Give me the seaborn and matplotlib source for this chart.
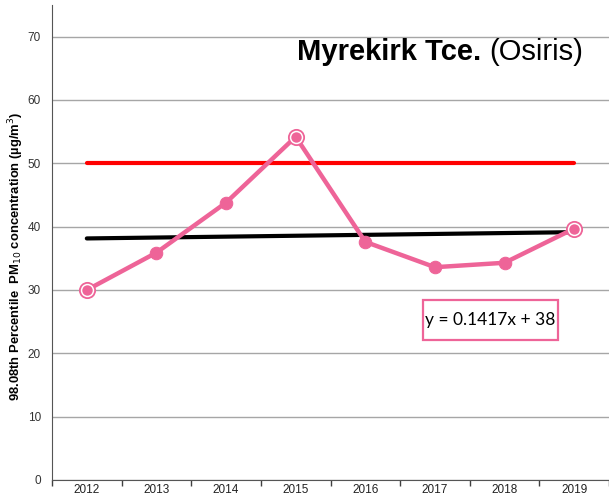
import numpy as np
import seaborn as sns
import matplotlib.pyplot as plt
from matplotlib.patches import Rectangle
from matplotlib.ticker import FixedLocator

sns.set_style('white')
plt.rcParams['font.family'] = ['Liberation Sans', 'DejaVu Sans']
plt.rcParams['text.color'] = 'black'

# data
years = [2012, 2013, 2014, 2015, 2016, 2017, 2018, 2019]
pm10 = [30.0, 35.9, 43.8, 54.2, 37.6, 33.6, 34.3, 39.7]
hollow_years = [2012, 2015, 2019]
limit_value = 50
trend_slope = 0.1417
trend_intercept = 38

pink = '#EE6498'

fig = plt.figure(figsize=(6.09, 5.0), dpi=100)
ax = fig.add_axes([0.0854, 0.04, 0.9146, 0.95])

# objective line
sns.lineplot(x=years, y=[limit_value] * len(years), color='#FF0000', linewidth=3, ax=ax)

# linear trend
trend_x = np.arange(1, len(years) + 1)
trend = trend_slope * trend_x + trend_intercept
sns.lineplot(x=years, y=trend, color='black', linewidth=3, ax=ax)

# measured values
sns.lineplot(x=years, y=pm10, color=pink, linewidth=3.2, marker='o', markersize=9,
             markeredgecolor=pink, ax=ax, zorder=5)
hv = [pm10[years.index(y)] for y in hollow_years]
ax.plot(hollow_years, hv, ls='none', marker='o', ms=9, mfc=pink, mec='white', mew=1.5, zorder=6)
ax.plot(hollow_years, hv, ls='none', marker='o', ms=11, mfc='none', mec=pink, mew=1.3, zorder=7)

ax.set_xlim(2011.5, 2019.5)
ax.set_ylim(0, 75)
ax.set_yticks(range(0, 71, 10))
ax.set_xticks(years)
ax.xaxis.set_minor_locator(FixedLocator(np.arange(2011.5, 2019.6, 1)))
ax.tick_params(axis='x', which='major', length=0, labelsize=8.5, pad=3, labelcolor='#222222')
ax.tick_params(axis='x', which='minor', length=4, width=1, color='#404040', direction='out', bottom=True)
ax.tick_params(axis='y', length=0, labelsize=8.5, pad=8, labelcolor='#333333')
ax.grid(axis='y', color='#A6A6A6', linewidth=1)
ax.set_axisbelow(True)

for s in ['top', 'right']:
    ax.spines[s].set_visible(False)
ax.spines['left'].set_color('#555555')
ax.spines['bottom'].set_color('#555555')

ax.set_ylabel('98.08th Percentile  PM$_{10}$ concentration (µg/m$^3$)',
              fontsize=9.4, fontweight='bold', color='black')
ax.yaxis.set_label_coords(-0.046, 0.47)

# title: bold station name followed by model name
t2 = ax.text(2019.13, 66.3, '(Osiris)', fontsize=21, ha='right', va='baseline', color='black')
ax.annotate('Myrekirk Tce. ', xy=(0, 0), xycoords=t2, xytext=(0, 0), textcoords='offset points',
            fontsize=21, fontweight='bold', ha='right', va='bottom', color='black')

# trend equation box
ax.add_patch(Rectangle((2016.83, 22.1), 1.94, 6.3, fc='white', ec=pink, lw=1.6, zorder=8))
ax.text(2017.8, 25.2, 'y = 0.1417x + 38', fontsize=12.5, ha='center', va='center',
        family=['Lato', 'DejaVu Sans'], color='black', zorder=9)

fig.savefig('out.png', dpi=100)
